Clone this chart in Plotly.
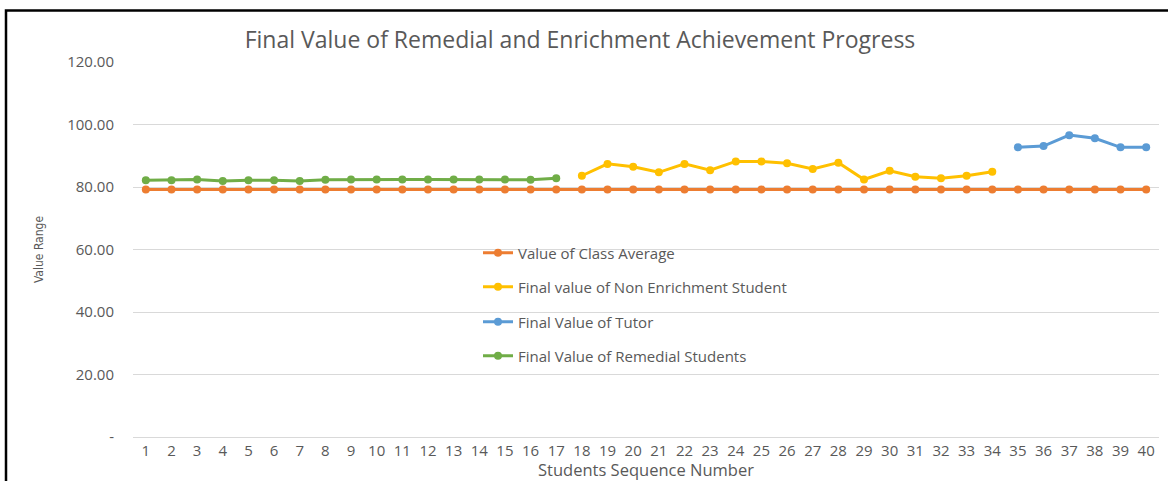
import plotly.graph_objects as go

students = list(range(1, 41))

class_average = [79.2] * 40

remedial_x = list(range(1, 18))
remedial = [82.2, 82.2, 82.4, 81.9, 82.2, 82.2, 81.9, 82.3, 82.4, 82.4, 82.4, 82.4,
            82.4, 82.4, 82.4, 82.3, 82.8]

non_enrich_x = list(range(18, 35))
non_enrich = [83.6, 87.4, 86.5, 84.7, 87.4, 85.4, 88.2, 88.2, 87.6, 85.8, 87.8,
              82.4, 85.2, 83.3, 82.8, 83.6, 84.9]

tutor_x = list(range(35, 41))
tutor = [92.7, 93.1, 96.6, 95.6, 92.7, 92.7]

y_ticks = [0, 20, 40, 60, 80, 100, 120]
y_ticktext = ["-", "20.00", "40.00", "60.00", "80.00", "100.00", "120.00"]

names = ["Value of Class Average", "Final value of Non Enrichment Student",
         "Final Value of Tutor", "Final Value of Remedial Students"]
colors = ["#ED7D31", "#FFC000", "#5B9BD5", "#70AD47"]

FONT = "Open Sans"
GREY = "#595959"

fig = go.Figure()
series = [(students, class_average), (non_enrich_x, non_enrich),
          (tutor_x, tutor), (remedial_x, remedial)]
legend_ids = ["legend", "legend2", "legend3", "legend4"]
for (xs, ys), name, col, lg in zip(series, names, colors, legend_ids):
    fig.add_trace(go.Scatter(
        x=xs, y=ys, name=name, mode="lines+markers",
        line=dict(color=col, width=3),
        marker=dict(color=col, size=8),
        legend=lg,
    ))

L, R, T, B = 133, 9, 62, 44
W, H = 1168, 481
pw, ph = W - L - R, H - T - B

def px2x(px):
    return (px - L) / pw

def py2y(py):
    return (H - B - py) / ph

leg_common = dict(xanchor="left", yanchor="middle", bgcolor="rgba(0,0,0,0)",
                  font=dict(family=FONT, size=15, color=GREY))
legend_y = [253, 287, 322, 356]
layout_legends = {}
for lg, py in zip(legend_ids, legend_y):
    layout_legends[lg] = dict(x=px2x(478), y=py2y(py), **leg_common)

fig.update_layout(
    width=W, height=H,
    margin=dict(l=L, r=R, t=T, b=B, autoexpand=False),
    paper_bgcolor="white", plot_bgcolor="white",
    title=dict(text="Final Value of Remedial and Enrichment Achievement Progress",
               x=580 / W, xanchor="center", y=1 - 40 / H, yanchor="middle",
               font=dict(family=FONT, size=23, color=GREY)),
    showlegend=True,
    **layout_legends,
    xaxis=dict(
        range=[0.5, 40.5], tickmode="array", tickvals=students,
        ticktext=[str(s) for s in students], showgrid=False, zeroline=False,
        showline=True, linecolor="#D9D9D9", linewidth=1, ticks="",
        automargin=False,
        tickfont=dict(family=FONT, size=15, color=GREY),
        title=dict(text="Students Sequence Number", standoff=4,
                   font=dict(family=FONT, size=16.5, color=GREY)),
    ),
    yaxis=dict(
        range=[0, 120], tickmode="array", tickvals=y_ticks, ticktext=y_ticktext,
        showgrid=True, gridcolor="#D9D9D9", gridwidth=1, zeroline=False,
        ticks="", ticklabelstandoff=18, automargin=False,
        tickfont=dict(family=FONT, size=15, color=GREY),
        title=dict(text="Value Range", standoff=20,
                   font=dict(family="DejaVu Sans Condensed, Open Sans", size=12, color=GREY)),
    ),
    shapes=[dict(type="rect", xref="paper", yref="paper",
                 x0=px2x(6), x1=px2x(1180), y0=py2y(495), y1=py2y(10.5),
                 line=dict(color="black", width=2.5), fillcolor="rgba(0,0,0,0)",
                 layer="above")],
)

fig.write_html("out.html", config={"displayModeBar": False},
               post_script="document.body.style.margin='0';document.body.style.overflow='hidden';")
